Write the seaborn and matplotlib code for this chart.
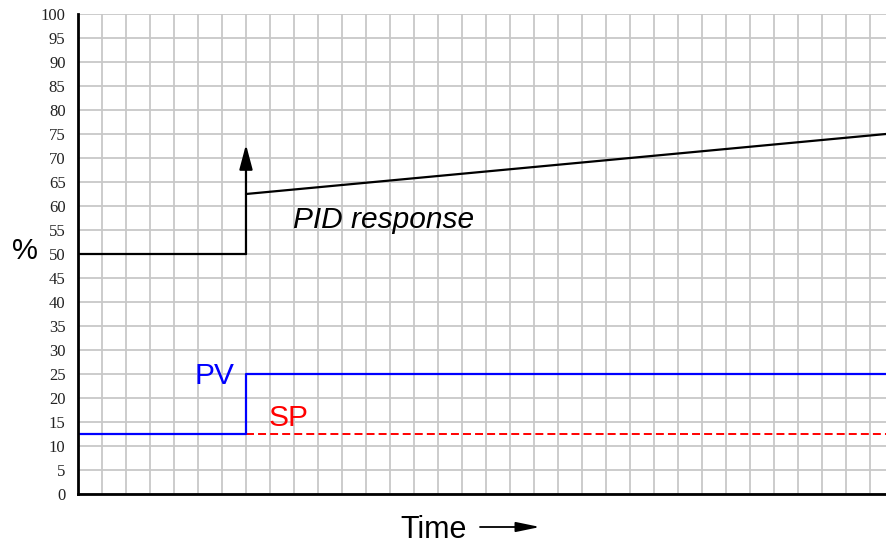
import numpy as np
import pandas as pd
import matplotlib
matplotlib.use("Agg")
import matplotlib.pyplot as plt
import seaborn as sns

# data (x in grid units, y in percent)
x_end = 33.67
step_t = 7

out_before_t = [0, step_t]
out_before_v = [50, 50]
out_ramp_t = [step_t, x_end]
out_ramp_v = [62.5, 75]
kick_top = 72.8

pv_t = [0, step_t, step_t, x_end]
pv_v = [12.5, 12.5, 25, 25]

sp_t = [step_t, x_end]
sp_v = [12.5, 12.5]

y_ticks = list(range(0, 101, 5))

sns.set_style("white")
plt.rcParams['font.family'] = ['Liberation Sans', 'DejaVu Sans']
plt.rcParams['text.color'] = 'black'

fig = plt.figure(figsize=(8.86, 5.46), dpi=100)
ax = fig.add_axes([78 / 886, 52 / 546, 808 / 886, 480 / 546])

sns.lineplot(x=out_before_t, y=out_before_v, ax=ax, color="black", lw=1.6,
             sort=False, estimator=None)
sns.lineplot(x=out_ramp_t, y=out_ramp_v, ax=ax, color="black", lw=1.6,
             sort=False, estimator=None)
ax.annotate("", xy=(step_t, kick_top), xytext=(step_t, 50),
            arrowprops=dict(arrowstyle="-|>,head_length=1.5,head_width=0.4",
                            mutation_scale=10, color="black", lw=1.6,
                            shrinkA=0, shrinkB=0))
sns.lineplot(x=sp_t, y=sp_v, ax=ax, color="red", lw=1.4, linestyle=(0, (4.1, 2.1)),
             sort=False, estimator=None)
sns.lineplot(x=pv_t, y=pv_v, ax=ax, color="blue", lw=1.6,
             sort=False, estimator=None)

ax.set_xlim(0, x_end)
ax.set_ylim(0, 100)
ax.set_xticks(np.arange(0, 34, 1))
ax.set_xticklabels([])
ax.set_yticks(y_ticks)
ax.set_yticklabels([str(v) for v in y_ticks], fontfamily="Liberation Serif",
                   fontsize=12, color="#222222")
ax.tick_params(length=0, pad=9)
ax.grid(True, color="#c8c8c8", lw=1.3)
ax.set_axisbelow(True)

for s in ["top", "right"]:
    ax.spines[s].set_visible(False)
for s in ["left", "bottom"]:
    ax.spines[s].set_color("black")
    ax.spines[s].set_linewidth(2)

ax.text(8.95, 57, "PID response", fontsize=21.5, style="italic", va="center", ha="left")
ax.text(4.85, 24.6, "PV", fontsize=21.5, color="blue", va="center", ha="left")
ax.text(7.95, 15.8, "SP", fontsize=21.5, color="red", va="center", ha="left")

fig.text(25 / 886, 1 - 251 / 546, "%", fontsize=21, ha="center", va="center")
fig.text(434 / 886, 1 - 530 / 546, "Time", fontsize=22, ha="center", va="center")
fig.add_artist(matplotlib.patches.FancyArrowPatch(
    (480 / 886, 1 - 527 / 546), (540 / 886, 1 - 527 / 546),
    transform=fig.transFigure, arrowstyle="-|>,head_length=1.45,head_width=0.3",
    mutation_scale=10, color="black", lw=1.3, shrinkA=0, shrinkB=0))

fig.savefig("out.png", dpi=100)
